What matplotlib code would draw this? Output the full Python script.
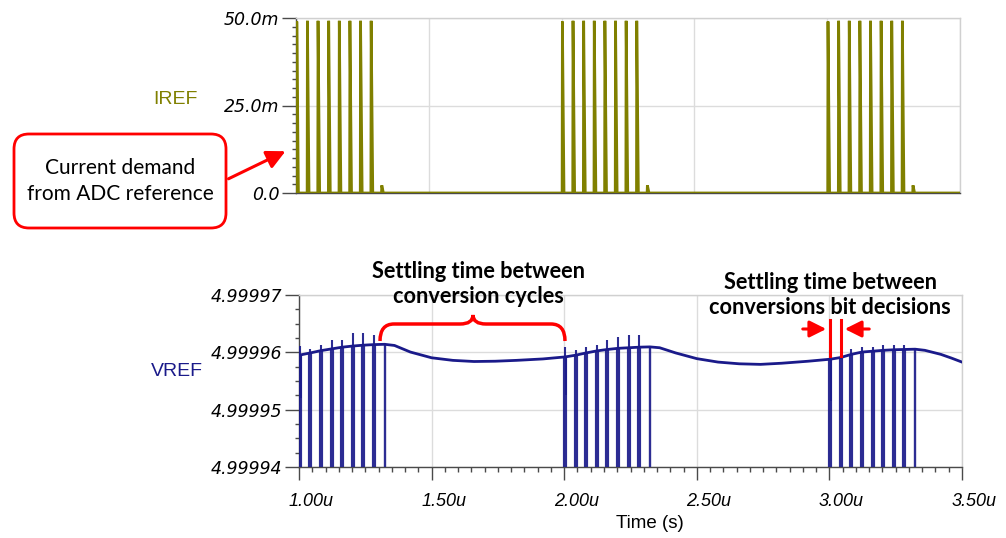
import numpy as np
import matplotlib
matplotlib.use('Agg')
import matplotlib.pyplot as plt
from matplotlib.patches import FancyBboxPatch, FancyArrowPatch, PathPatch
from matplotlib.path import Path
from matplotlib.transforms import Affine2D, ScaledTranslation
from matplotlib.ticker import FixedLocator, FixedFormatter, MultipleLocator

W, H = 1006, 538

# ---------------- data ----------------
group_starts_us = [1.003, 2.003, 3.003]
bit_offsets_us = [0.00, 0.04, 0.08, 0.12, 0.16, 0.20, 0.24, 0.28, 0.32]
iref_peak_mA = [49.0, 49.2, 49.2, 49.2, 49.2, 49.2, 49.2, 49.2, 2.2]

# VREF baseline (offset from 4.99996 V, in microvolts)
vref_knot_t_us = [1.00, 1.043, 1.083, 1.123, 1.163, 1.203, 1.243, 1.283, 1.323, 1.36, 1.42, 1.50,
                  1.58, 1.66, 1.74, 1.82, 1.92,
                  2.003, 2.043, 2.083, 2.123, 2.163, 2.203, 2.243, 2.283, 2.323, 2.36, 2.42, 2.50,
                  2.58, 2.66, 2.74, 2.82, 2.92,
                  3.003, 3.043, 3.083, 3.123, 3.163, 3.203, 3.243, 3.283, 3.323, 3.36, 3.42, 3.46, 3.50]
vref_knot_uV = [-0.5, -0.1, 0.3, 0.6, 0.9, 1.1, 1.25, 1.35, 1.4, 1.2, 0.05, -0.95,
                -1.4, -1.6, -1.55, -1.4, -1.15,
                -0.8, -0.5, -0.1, 0.25, 0.5, 0.7, 0.8, 0.9, 0.95, 0.8, -0.1, -1.1,
                -1.7, -2.0, -2.1, -1.9, -1.55,
                -1.2, -0.9, -0.35, 0.05, 0.2, 0.35, 0.45, 0.5, 0.55, 0.35, -0.35, -1.0, -1.7]

# upper tip of each VREF bit-decision transient (uV offset from 4.99996 V)
vref_spike_top_uV = [
    [1.05, 0.65, 1.2, 2.1, 2.1, 3.4, 3.3, 3.1, 1.4],
    [0.9, 0.35, 0.9, 1.2, 2.1, 2.7, 3.1, 3.0, 0.9],
    [0.35, -0.5, 0.65, 0.9, 0.9, 1.2, 1.3, 1.2, 0.5],
]
# partial ringing stroke after the first decision of each conversion (uV)
vref_ring_low_uV = [-7.9, -7.5, -8.5]
vref_spike_bottom_uV = -40.0

x_ticks_us = [1.00, 1.50, 2.00, 2.50, 3.00, 3.50]
x_tick_labels = ['1.00u', '1.50u', '2.00u', '2.50u', '3.00u', '3.50u']
iref_ticks_mA = [0.0, 25.0, 50.0]
iref_tick_labels = ['0.0', '25.0m', '50.0m']
vref_ticks_uV = [-20.0, -10.0, 0.0, 10.0]
vref_tick_labels = ['4.99994', '4.99995', '4.99996', '4.99997']

# ---------------- style ----------------
OLIVE = '#808000'
NAVY = '#1a1a8a'
RED = '#ff0000'
GRID = '#dcdcdc'
AX = '#4a4a4a'

fig = plt.figure(figsize=(W / 100, H / 100), dpi=100)
fig.patch.set_facecolor('white')

def fpos(l, t, r, b):
    return [l / W, 1 - b / H, (r - l) / W, (b - t) / H]

ax1 = fig.add_axes(fpos(296, 18, 960, 193))
ax2 = fig.add_axes(fpos(299, 295, 962, 467))

for ax in (ax1, ax2):
    ax.set_xlim(1.0, 3.5)
    for s in ('top', 'right'):
        ax.spines[s].set_color('#d0d0d0')
        ax.spines[s].set_linewidth(1.0)
    for s in ('left', 'bottom'):
        ax.spines[s].set_color(AX)
        ax.spines[s].set_linewidth(1.0)
    ax.xaxis.set_major_locator(FixedLocator(x_ticks_us))
    ax.grid(True, which='major', color=GRID, linewidth=1.0)
    ax.set_axisbelow(True)

# ---- IREF panel ----
xs, ys = [0.95], [0.0]
for g in group_starts_us:
    for off, pk in zip(bit_offsets_us, iref_peak_mA):
        t = g + off
        xs += [t - 0.001, t, t + 0.006]
        ys += [0.0, pk, 0.0]
xs.append(3.6)
ys.append(0.0)
ax1.plot(xs, ys, color=OLIVE, lw=2.0, solid_joinstyle='miter', clip_on=True, zorder=3)
ax1.set_ylim(0, 50)
ax1.yaxis.set_major_locator(FixedLocator(iref_ticks_mA))
ax1.yaxis.set_major_formatter(FixedFormatter(iref_tick_labels))
ax1.yaxis.set_minor_locator(MultipleLocator(2.5))
ax1.tick_params(axis='x', which='both', bottom=False, labelbottom=False)
ax1.tick_params(axis='y', which='major', length=10, width=1, color=AX, pad=2)
ax1.tick_params(axis='y', which='minor', length=3, width=1, color=AX)
for lab in ax1.get_yticklabels():
    lab.set_fontfamily('DejaVu Sans')
    lab.set_fontstyle('italic')
    lab.set_fontsize(12.5)

# ---- VREF panel ----
ax2.plot(vref_knot_t_us, vref_knot_uV, color=NAVY, lw=2.0, zorder=3)
for g, tops, ring in zip(group_starts_us, vref_spike_top_uV, vref_ring_low_uV):
    for k, (off, top) in enumerate(zip(bit_offsets_us, tops)):
        t = g + off
        base = np.interp(t, vref_knot_t_us, vref_knot_uV)
        lw = 3.0 if k < len(bit_offsets_us) - 1 else 1.7
        ax2.plot([t, t], [vref_spike_bottom_uV, base], color=NAVY, lw=lw, alpha=0.92,
                 solid_capstyle='butt', zorder=3)
        if top > base:
            ax2.plot([t, t], [base, top], color=NAVY, lw=1.5, alpha=0.92,
                     solid_capstyle='butt', zorder=3)
    tr = g + 0.004
    ax2.plot([tr, tr], [ring, np.interp(tr, vref_knot_t_us, vref_knot_uV)], color=NAVY,
             lw=1.3, alpha=0.9, solid_capstyle='butt', zorder=3)
ax2.set_ylim(-20, 10)
ax2.yaxis.set_major_locator(FixedLocator(vref_ticks_uV))
ax2.yaxis.set_major_formatter(FixedFormatter(vref_tick_labels))
ax2.yaxis.set_minor_locator(MultipleLocator(2.5))
ax2.xaxis.set_major_formatter(FixedFormatter(x_tick_labels))
ax2.xaxis.set_minor_locator(MultipleLocator(0.05))
ax2.tick_params(axis='y', which='major', length=10, width=1, color=AX, pad=2)
ax2.tick_params(axis='y', which='minor', length=3, width=1, color=AX)
ax2.tick_params(axis='x', which='major', length=9.5, width=1, color=AX, pad=9)
ax2.tick_params(axis='x', which='minor', length=3.5, width=1, color=AX)
shift = ScaledTranslation(12 / 100, 0, fig.dpi_scale_trans)
for lab in ax2.get_yticklabels():
    lab.set_fontfamily('DejaVu Sans')
    lab.set_fontstyle('italic')
    lab.set_fontsize(12.5)
for lab in ax2.get_xticklabels():
    lab.set_fontfamily('Liberation Sans')
    lab.set_fontstyle('italic')
    lab.set_fontsize(13)
    lab.set_transform(lab.get_transform() + shift)

# ---- text labels ----
def fxy(x, y):
    return (x / W, 1 - y / H)

fig.text(*fxy(175, 100), 'IREF', color=OLIVE, fontsize=14, family='Liberation Sans',
         ha='center', va='center')
fig.text(*fxy(177, 372), 'VREF', color=NAVY, fontsize=14, family='Liberation Sans',
         ha='center', va='center')
fig.text(*fxy(650, 523), 'Time (s)', color='black', fontsize=13.5, family='Liberation Sans',
         ha='center', va='center')

# pixel-coordinate transform for annotation drawing
pxT = Affine2D().scale(1 / W, -1 / H).translate(0, 1) + fig.transFigure

box = FancyBboxPatch((14, 134), 212, 94, boxstyle='round,pad=0,rounding_size=15',
                     transform=pxT, facecolor='white', edgecolor=RED, lw=2.0, zorder=5)
fig.add_artist(box)
fig.text(*fxy(120, 181), 'Current demand\nfrom ADC reference', fontsize=15, family='Lato',
         ha='center', va='center', linespacing=1.38, zorder=6)
arr = FancyArrowPatch((226, 180), (288, 150), transform=pxT, arrowstyle='-|>,head_length=8,head_width=4',
                      color=RED, lw=2.2, mutation_scale=1.4, zorder=6)
fig.add_artist(arr)

fig.text(*fxy(478, 284), 'Settling time between\nconversion cycles', fontsize=15.7, family='Lato',
         weight='bold', ha='center', va='center', linespacing=1.2)
fig.text(*fxy(830, 295), 'Settling time between\nconversions bit decisions', fontsize=15.7, family='Lato',
         weight='bold', ha='center', va='center', linespacing=1.2)

# brace
verts = [(380, 341), (380, 324), (394, 324),
         (460, 324), (473, 324), (473, 315), (473, 324), (486, 324),
         (551, 324), (565, 324), (565, 341)]
codes = [Path.MOVETO, Path.CURVE3, Path.CURVE3,
         Path.LINETO, Path.CURVE3, Path.CURVE3, Path.CURVE3, Path.CURVE3,
         Path.LINETO, Path.CURVE3, Path.CURVE3]
fig.add_artist(PathPatch(Path(verts, codes), transform=pxT, facecolor='none', edgecolor=RED,
                         lw=2.5, capstyle='butt', zorder=6))

# bit-decision markers
for xv in (830, 841):
    fig.add_artist(plt.Line2D([xv / W, xv / W], [1 - 320 / H, 1 - 356 / H], color=RED, lw=2.2, zorder=6))
fig.add_artist(FancyArrowPatch((800, 329), (829, 329), transform=pxT,
                               arrowstyle='-|>,head_length=10,head_width=5', color=RED, lw=2.2, zorder=6))
fig.add_artist(FancyArrowPatch((872, 329), (842, 329), transform=pxT,
                               arrowstyle='-|>,head_length=10,head_width=5', color=RED, lw=2.2, zorder=6))

fig.savefig('out.png', dpi=100)
